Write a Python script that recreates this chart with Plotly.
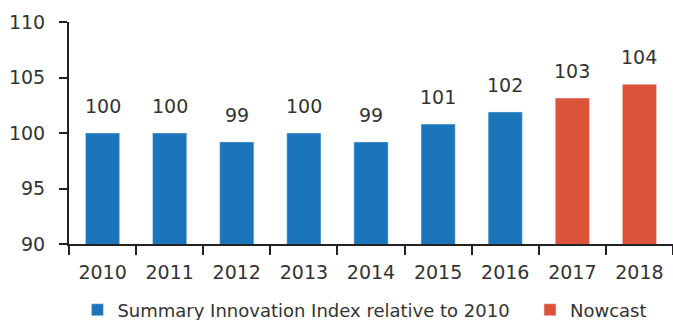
import plotly.graph_objects as go

years_hist = ["2010", "2011", "2012", "2013", "2014", "2015", "2016"]
values_hist = [100.0, 100.0, 99.2, 100.0, 99.2, 100.8, 101.9]
years_now = ["2017", "2018"]
values_now = [103.15, 104.4]
all_years = years_hist + years_now
all_values = values_hist + values_now
y_ticks = [90, 95, 100, 105, 110]

BLUE = "#1a75bb"
RED = "#dc5339"
TXT = "#333333"
FONT = "DejaVu Sans"

fig = go.Figure()
fig.add_trace(go.Bar(x=years_hist, y=values_hist, marker_color=BLUE, width=0.51,
                     name="Summary Innovation Index relative to 2010", legend="legend"))
fig.add_trace(go.Bar(x=years_now, y=values_now, marker_color=RED, width=0.51,
                     name="Nowcast", legend="legend2"))

for i, yv in enumerate(all_values):
    fig.add_annotation(x=i, y=yv, text=str(round(yv)), showarrow=False,
                       yanchor="bottom", yshift=14,
                       font=dict(family=FONT, size=19, color=TXT))

leg_common = dict(orientation="h", xref="container", yref="container",
                  y=0.031, xanchor="left", yanchor="middle",
                  font=dict(family=FONT, size=18, color=TXT),
                  bgcolor="rgba(0,0,0,0)")

fig.update_layout(
    width=673, height=320,
    margin=dict(l=69, r=0, t=22, b=76),
    barmode="overlay",
    plot_bgcolor="white", paper_bgcolor="white",
    font=dict(family=FONT, size=19, color=TXT),
    showlegend=True,
    legend=dict(x=0.115, **leg_common),
    legend2=dict(x=0.7875, **leg_common),
)
fig.update_xaxes(type="category", categoryorder="array", categoryarray=all_years,
                 range=[-0.5, 8.5], showline=True, linecolor="#222222", linewidth=2,
                 ticks="outside", tickson="boundaries", ticklen=9, tickwidth=2,
                 tickcolor="#222222", showgrid=False, ticklabelstandoff=10)
fig.update_yaxes(range=[90, 110], tickvals=y_ticks, showline=True, linecolor="#222222",
                 linewidth=2, ticks="outside", ticklen=8, tickwidth=2, tickcolor="#222222",
                 showgrid=False, zeroline=False, ticklabelstandoff=10)

fig.write_html("out.html", config={"displayModeBar": False},
               post_script="document.body.style.margin='0';")
